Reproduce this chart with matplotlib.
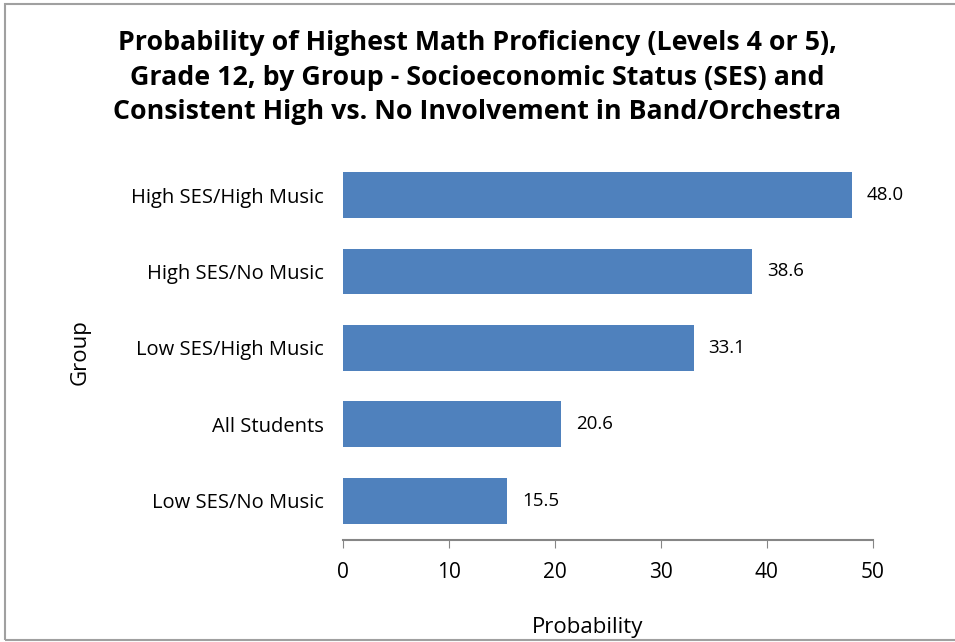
import matplotlib.pyplot as plt
from matplotlib.patches import Rectangle

plt.rcParams['font.family'] = ['Open Sans', 'DejaVu Sans']

groups = ['Low SES/No Music', 'All Students', 'Low SES/High Music',
          'High SES/No Music', 'High SES/High Music']
probability = [15.5, 20.6, 33.1, 38.6, 48.0]
xticks = [0, 10, 20, 30, 40, 50]

fig = plt.figure(figsize=(9.55, 6.42), dpi=100)
ax = fig.add_axes([0.359, 0.159, 0.555, 0.598])

bars = ax.barh(range(len(groups)), probability, height=0.6, color='#4F81BD')
for i, v in enumerate(probability):
    ax.text(v + 1.4, i, f'{v:.1f}', va='center', ha='left', fontsize=13.5)

ax.set_yticks(range(len(groups)))
ax.set_yticklabels(groups, fontsize=14.5)
ax.set_ylim(-0.51, 4.51)
ax.set_xlim(0, 50)
ax.set_xticks(xticks)
ax.set_xticklabels([str(t) for t in xticks], fontsize=15)
ax.tick_params(axis='y', length=0, pad=14)
ax.tick_params(axis='x', direction='out', length=6, color='#868686', pad=10)

for s in ['top', 'right', 'left']:
    ax.spines[s].set_visible(False)
ax.spines['bottom'].set_color('#868686')
ax.spines['bottom'].set_linewidth(1.5)

ax.set_xlabel('Probability', fontsize=16)
ax.xaxis.set_label_coords(0.462, -0.2, transform=ax.transAxes)
fig.text(0.084, 0.452, 'Group', rotation=90, fontsize=16, ha='center', va='center')

fig.suptitle('Probability of Highest Math Proficiency (Levels 4 or 5),\n'
             'Grade 12, by Group - Socioeconomic Status (SES) and\n'
             'Consistent High vs. No Involvement in Band/Orchestra',
             fontsize=19.3, fontweight='bold', y=0.953, linespacing=1.42)

fig.patches.append(Rectangle((0.005, 0.003), 1.2, 0.99, transform=fig.transFigure,
                             fill=False, edgecolor='#A0A0A0', linewidth=1.5))

fig.savefig('out.png', dpi=100)
